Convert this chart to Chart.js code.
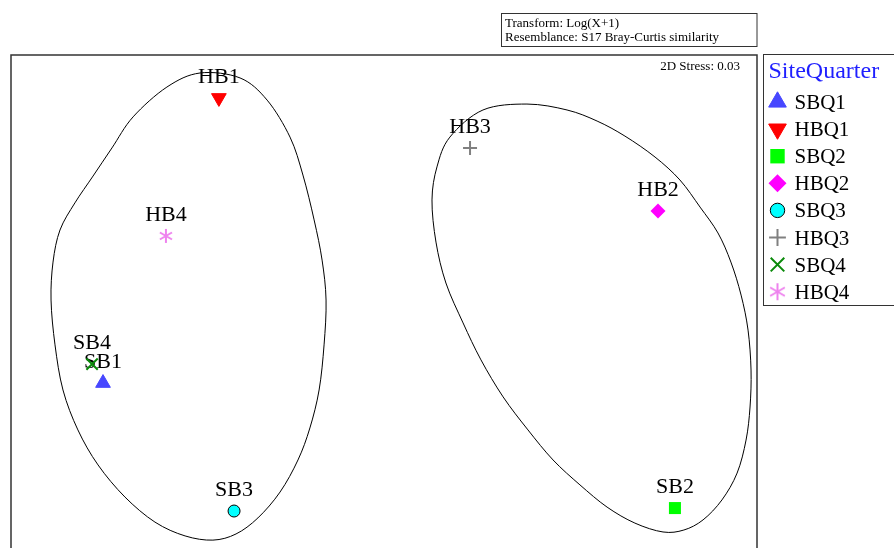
<!DOCTYPE html>
<html>
<head>
<meta charset="utf-8">
<script src="https://cdn.jsdelivr.net/npm/chart.js@4/dist/chart.umd.min.js"></script>
<style>
  html, body { margin: 0; padding: 0; background: #fff; }
  canvas { display: block; }
</style>
</head>
<body>
<canvas id="mdsChart" width="894" height="548"></canvas>
<script>
// ===== DATA =====
const groups = ["SBQ1", "HBQ1", "SBQ2", "HBQ2", "SBQ3", "HBQ3", "SBQ4", "HBQ4"];
const sampleLabels = ["SB1", "HB1", "SB2", "HB2", "SB3", "HB3", "SB4", "HB4"];
const mdsX = [-1.130, -0.664, 1.170, 1.102, -0.603, 0.346, -1.174, -0.877];
const mdsY = [-0.331, 0.826, -0.838, 0.367, -0.850, 0.623, -0.254, 0.266];

// similarity contours (closed curves)
const leftX = [-0.740, -0.579, -0.470, -0.378, -0.326, -0.281, -0.249, -0.233, -0.241, -0.261, -0.298, -0.346,
               -0.418, -0.507, -0.595, -0.688, -0.800, -0.921, -1.042, -1.150, -1.231, -1.291, -1.323, -1.339,
               -1.331, -1.303, -1.243, -1.170, -1.094, -1.009, -0.873];
const leftY = [0.927, 0.907, 0.817, 0.667, 0.513, 0.331, 0.168, 0.006, -0.176, -0.359, -0.513, -0.643,
               -0.773, -0.878, -0.943, -0.968, -0.951, -0.895, -0.793, -0.663, -0.521, -0.359, -0.176, 0.006,
               0.160, 0.290, 0.400, 0.509, 0.623, 0.749, 0.870];
const rightX = [0.575, 0.736, 0.857, 0.969, 1.090, 1.190, 1.271, 1.343, 1.395, 1.436, 1.464, 1.476, 1.472,
                1.456, 1.420, 1.359, 1.283, 1.206, 1.122, 1.009, 0.897, 0.788, 0.680, 0.579, 0.479, 0.390,
                0.318, 0.249, 0.209, 0.193, 0.213, 0.265, 0.398];
const rightY = [0.801, 0.777, 0.732, 0.671, 0.586, 0.493, 0.383, 0.278, 0.160, 0.026, -0.116, -0.278, -0.428,
                -0.562, -0.696, -0.805, -0.886, -0.927, -0.935, -0.899, -0.834, -0.744, -0.643, -0.521, -0.387,
                -0.237, -0.087, 0.075, 0.241, 0.412, 0.546, 0.667, 0.777];

const stressText = "2D Stress: 0.03";
const infoLines = ["Transform: Log(X+1)", "Resemblance: S17 Bray-Curtis similarity"];
const legendTitle = "SiteQuarter";

// ===== STYLES =====
// six-armed asterisk, Chart.js only has an eight-armed star
function makeAsterisk(r, color) {
    const c = document.createElement("canvas");
    c.width = c.height = Math.ceil(r * 2 + 4);
    const g = c.getContext("2d");
    const m = c.width / 2;
    g.strokeStyle = color;
    g.lineWidth = 2;
    g.beginPath();
    for (let k = 0; k < 3; k++) {
        const ang = Math.PI / 2 + k * Math.PI / 3;
        g.moveTo(m + Math.cos(ang) * r, m - Math.sin(ang) * r);
        g.lineTo(m - Math.cos(ang) * r, m + Math.sin(ang) * r);
    }
    g.stroke();
    return c;
}

const markerStyles = {
    SBQ1: { pointStyle: "triangle", rotation: 0, radius: 8.5, fill: "#4747ff", stroke: "#4747ff", width: 1 },
    HBQ1: { pointStyle: "triangle", rotation: 180, radius: 8.5, fill: "#ff0000", stroke: "#ff0000", width: 1 },
    SBQ2: { pointStyle: "rect", rotation: 0, radius: 8.5, fill: "#00ff00", stroke: "#00ff00", width: 0 },
    HBQ2: { pointStyle: "rectRot", rotation: 0, radius: 7.5, fill: "#ff00ff", stroke: "#ff00ff", width: 0 },
    SBQ3: { pointStyle: "circle", rotation: 0, radius: 6, fill: "#00ffff", stroke: "#000000", width: 1 },
    HBQ3: { pointStyle: "cross", rotation: 0, radius: 7, fill: "#808080", stroke: "#808080", width: 2 },
    SBQ4: { pointStyle: "crossRot", rotation: 0, radius: 8, fill: "#0a8a0a", stroke: "#0a8a0a", width: 2 },
    HBQ4: { pointStyle: makeAsterisk(7, "#ee82ee"), rotation: 0, radius: 7, fill: "#ee82ee", stroke: "#ee82ee", width: 2 }
};
const legendMarkers = {
    HBQ4: makeAsterisk(8.5, "#ee82ee")
};
const serif = '"Liberation Serif", "Times New Roman", serif';

const datasets = groups.map((g, i) => {
    const s = markerStyles[g];
    return {
        label: g,
        data: [{ x: mdsX[i], y: mdsY[i] }],
        pointStyle: s.pointStyle,
        pointRotation: s.rotation,
        pointRadius: s.radius,
        pointBackgroundColor: s.fill,
        pointBorderColor: s.stroke,
        pointBorderWidth: s.width
    };
});

// ===== CONTOURS + LABELS =====
function drawClosedCurve(ctx, pts) {
    const n = pts.length;
    ctx.beginPath();
    ctx.moveTo(pts[0].x, pts[0].y);
    for (let i = 0; i < n; i++) {
        const p0 = pts[(i - 1 + n) % n], p1 = pts[i], p2 = pts[(i + 1) % n], p3 = pts[(i + 2) % n];
        ctx.bezierCurveTo(
            p1.x + (p2.x - p0.x) / 6, p1.y + (p2.y - p0.y) / 6,
            p2.x - (p3.x - p1.x) / 6, p2.y - (p3.y - p1.y) / 6,
            p2.x, p2.y);
    }
    ctx.closePath();
    ctx.stroke();
}

const underlayPlugin = {
    id: "underlay",
    beforeDatasetsDraw(chart) {
        const { ctx, scales: { x, y } } = chart;
        ctx.save();
        ctx.strokeStyle = "#000";
        ctx.lineWidth = 1;
        [[leftX, leftY], [rightX, rightY]].forEach(([xs, ys]) => {
            const pts = xs.map((v, i) => ({ x: x.getPixelForValue(v), y: y.getPixelForValue(ys[i]) }));
            drawClosedCurve(ctx, pts);
        });
        ctx.fillStyle = "#000";
        ctx.font = "22px " + serif;
        ctx.textAlign = "center";
        ctx.textBaseline = "alphabetic";
        sampleLabels.forEach((lab, i) => {
            ctx.fillText(lab, x.getPixelForValue(mdsX[i]), y.getPixelForValue(mdsY[i]) - 15);
        });
        ctx.restore();
    }
};

// ===== FRAME, INFO BOX, LEGEND =====
const decorPlugin = {
    id: "decor",
    afterDraw(chart) {
        const { ctx, chartArea: a } = chart;
        ctx.save();
        ctx.strokeStyle = "#333";
        ctx.lineWidth = 1.5;
        ctx.beginPath();
        ctx.moveTo(a.left, a.bottom + 2);
        ctx.lineTo(a.left, a.top);
        ctx.lineTo(a.right, a.top);
        ctx.lineTo(a.right, a.bottom + 2);
        ctx.stroke();

        // stress
        ctx.fillStyle = "#000";
        ctx.font = "13px " + serif;
        ctx.textAlign = "right";
        ctx.fillText(stressText, a.right - 17, a.top + 15);

        // info box
        ctx.lineWidth = 1;
        ctx.strokeRect(501.5, 13.5, a.right - 501.5, 33);
        ctx.textAlign = "left";
        ctx.fillText(infoLines[0], 505, 27);
        ctx.fillText(infoLines[1], 505, 41);

        // legend
        const lx = a.right + 6.5;
        ctx.strokeRect(lx, a.top - 0.5, 200, 251);
        ctx.fillStyle = "#1f1fff";
        ctx.font = "24px " + serif;
        ctx.fillText(legendTitle, lx + 5, a.top + 23);
        ctx.font = "21px " + serif;
        groups.forEach((g, i) => {
            const s = markerStyles[g];
            const cy = a.top + 47 + i * 27.1;
            ctx.fillStyle = s.fill;
            ctx.strokeStyle = s.stroke;
            ctx.lineWidth = s.width;
            Chart.helpers.drawPoint(ctx, {
                pointStyle: legendMarkers[g] || s.pointStyle, rotation: s.rotation,
                radius: s.radius * 1.2, borderWidth: s.width
            }, lx + 14, cy);
            ctx.fillStyle = "#000";
            ctx.fillText(g, lx + 31, cy + 7);
        });
        ctx.restore();
    }
};

new Chart(document.getElementById("mdsChart"), {
    type: "scatter",
    data: { datasets },
    options: {
        responsive: false,
        animation: false,
        layout: { autoPadding: false, padding: { left: 11, top: 55, right: 137, bottom: 0 } },
        scales: {
            x: { display: false, min: -1.5, max: 1.5 },
            y: { display: false, min: -1, max: 1 }
        },
        plugins: { legend: { display: false }, tooltip: { enabled: false } }
    },
    plugins: [underlayPlugin, decorPlugin]
});
</script>
</body>
</html>
